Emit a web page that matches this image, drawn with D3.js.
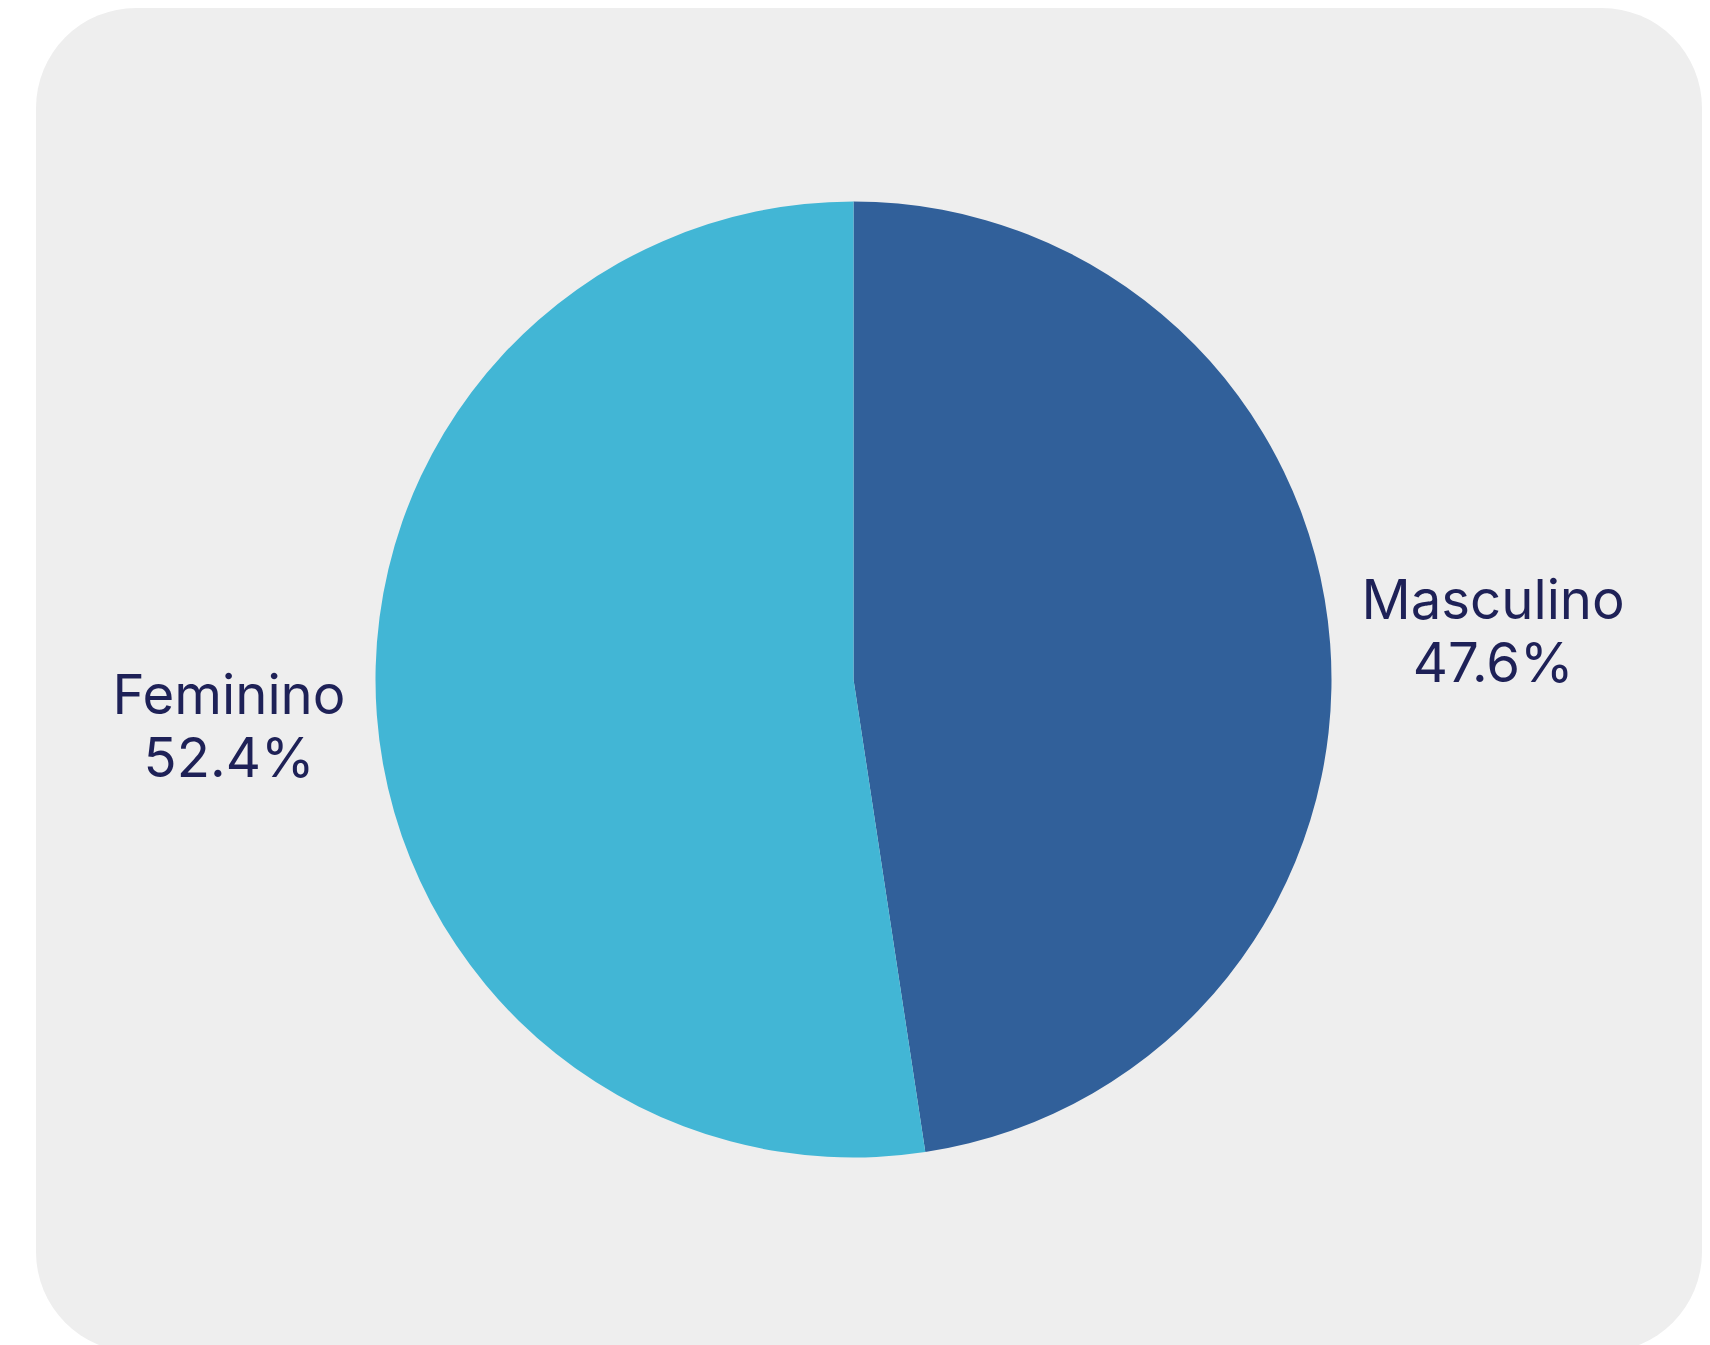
<!DOCTYPE html>
<html>
<head>
<meta charset="utf-8">
<script src="https://cdn.jsdelivr.net/npm/d3@7"></script>
<style>
  body { margin: 0; background: #ffffff; }
  svg { display: block; }
</style>
</head>
<body>
<div id="chart"></div>
<script>
var categories = ["Masculino", "Feminino"];
var values = [47.6, 52.4];
var colors = ["#31609a", "#42b6d5"];

var width = 1710,
    height = 1345,
    cx = 853.5,
    cy = 679.5,
    radius = 478;

var data = categories.map(function(c, i){ return {name: c, value: values[i]}; });

var svg = d3.select("#chart").append("svg")
    .attr("width", width)
    .attr("height", height);

svg.append("rect")
    .attr("x", 36)
    .attr("y", 8)
    .attr("width", 1666)
    .attr("height", 1344)
    .attr("rx", 100)
    .attr("ry", 100)
    .attr("fill", "#eeeeee");

var color = d3.scaleOrdinal().domain(categories).range(colors);

var pie = d3.pie().sort(null).value(function(d){ return d.value; });

var arc = d3.arc().innerRadius(0).outerRadius(radius);

var g = svg.append("g")
    .attr("transform", "translate(" + cx + "," + cy + ")");

var arcs = pie(data);

g.selectAll("path")
    .data(arcs).enter()
    .append("path")
    .attr("d", arc)
    .attr("fill", function(d){ return color(d.data.name); });

// labels: vertical position from the slice's middle angle,
// inner edge of the text kept a fixed gap away from the pie
var labelR = 633, gap = 30;

var labels = g.selectAll(".label")
    .data(arcs).enter()
    .append("text")
    .attr("class", "label")
    .attr("text-anchor", "middle")
    .attr("font-family", "Inter, 'Noto Sans', sans-serif")
    .attr("font-size", 54.5)
    .attr("fill", "#1e2157");

labels.append("tspan")
    .attr("x", 0)
    .attr("y", -13)
    .text(function(d){ return d.data.name; });

labels.append("tspan")
    .attr("x", 0)
    .attr("y", 50)
    .text(function(d){ return d.data.value.toFixed(1) + "%"; });

labels.attr("transform", function(d){
    var a = (d.startAngle + d.endAngle) / 2;
    var w = 0;
    d3.select(this).selectAll("tspan").each(function(){
        w = Math.max(w, this.getComputedTextLength());
    });
    var side = Math.sin(a) >= 0 ? 1 : -1;
    var x = side * (radius + gap + w / 2);
    var y = -labelR * Math.cos(a);
    return "translate(" + x + "," + y + ")";
});
</script>
</body>
</html>
